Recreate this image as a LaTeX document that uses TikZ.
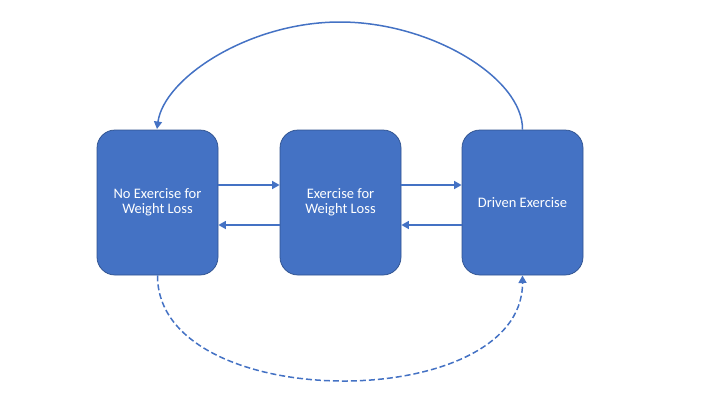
\documentclass[tikz,border=0pt]{standalone}
\usepackage{fontspec}
\setmainfont{Carlito}
\usetikzlibrary{arrows.meta}
\definecolor{boxfill}{HTML}{4472C4}
\definecolor{boxline}{HTML}{2F528F}
\tikzset{
  statebox/.style={draw=boxline, line width=0.75pt, fill=boxfill, rounded corners=18pt,
    minimum width=121pt, minimum height=145pt, text=white, align=center,
    font=\fontsize{14.5}{15}\selectfont, inner sep=0pt},
  link/.style={draw=boxfill, line width=1.5pt, -{Triangle[length=7.5pt,width=8pt]}},
  dashlink/.style={link, dash pattern=on 6pt off 3pt}
}
\begin{document}
\begin{tikzpicture}[x=1pt,y=-1pt]
\useasboundingbox (0,0) rectangle (720,405);
\node[statebox] (L) at (157.5,202.5) {No Exercise for\\Weight Loss};
\node[statebox] (M) at (340.5,202.5) {Exercise for\\Weight Loss};
\node[statebox] (R) at (522.5,202.5) {Driven Exercise};
\draw[link] ([yshift=17.5pt]L.east) -- ([yshift=17.5pt]M.west);
\draw[link] ([yshift=-22.5pt]M.west) -- ([yshift=-22.5pt]L.east);
\draw[link] ([yshift=17.5pt]M.east) -- ([yshift=17.5pt]R.west);
\draw[link] ([yshift=-22.5pt]R.west) -- ([yshift=-22.5pt]M.east);
\coordinate (Rt) at (R.north);
\coordinate (Top) at (340,22);
\coordinate (Lt) at (157,129);
\draw[link] (Rt) .. controls (523,78) and (431,22) .. (Top)
  .. controls (249,22) and (164,78) .. (Lt);
\coordinate (Lb) at (L.south);
\coordinate (Rb) at (522.5,275.5);
\draw[dashlink] (Lb) .. controls (157,415) and (523,415) .. (Rb);
\end{tikzpicture}
\end{document}
